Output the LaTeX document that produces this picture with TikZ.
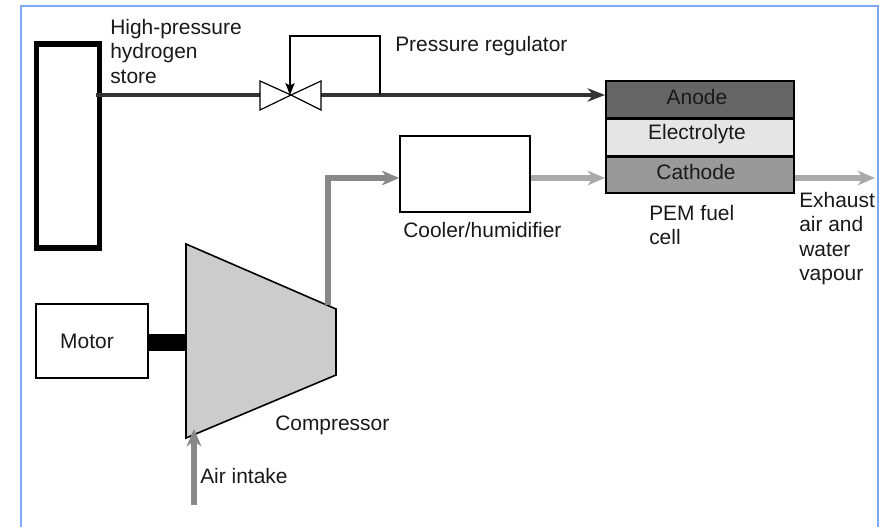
\documentclass[tikz,border=0pt]{standalone}
\usepackage{fontspec}
\setmainfont{Liberation Sans}
\usetikzlibrary{arrows.meta,positioning}
\definecolor{frameblue}{HTML}{7FA8F8}
\definecolor{darkline}{HTML}{333333}
\definecolor{airgray}{HTML}{888888}
\definecolor{coolgray}{HTML}{AAAAAA}
\tikzset{
  x=0.75pt,y=-0.75pt,
  txt/.style={font=\fontsize{15.7}{18.3}\selectfont,inner sep=0pt,text=black!90},
  label text/.style={txt,align=left,anchor=north west},
  blockbox/.style={draw=black,line width=1.2pt,fill=white,inner sep=0pt,minimum width=#1},
  layer/.style={draw=black,line width=1.2pt,inner sep=0pt,minimum width=141pt,minimum height=28pt,anchor=north west},
  h2line/.style={draw=darkline,line width=2.8pt,-{Stealth[length=13pt,width=10pt,inset=4pt]}},
  airline/.style={draw=airgray,line width=4.2pt,-{Stealth[length=13pt,width=11pt,inset=4pt]}},
  coolline/.style={draw=coolgray,line width=4.2pt,-{Stealth[length=13pt,width=11pt,inset=4pt]}},
}
\begin{document}
\begin{tikzpicture}
\useasboundingbox (0,0) rectangle (881,527);
\fill[white] (0,0) rectangle (881,527);
% frame
\draw[frameblue,line width=1.5pt] (20.5,527) -- (20.5,6.5) -- (877.5,6.5) -- (877.5,527);
% store
\node[draw=black,line width=4pt,minimum width=47pt,minimum height=153pt,inner sep=0pt] (store) at (68,146) {};
% valve
\coordinate (vc) at (291,95);
\coordinate (vl) at (260,95);
\coordinate (vr) at (321,95);
\coordinate (tee) at (380,95);
\draw[darkline,line width=2.8pt] (96,95) -- (vl);
\draw[darkline,line width=2.8pt] (vr) -- (tee);
\draw[black,line width=0.9pt,line join=miter] (vc) -- (260,81) -- (260,110) -- cycle;
\draw[black,line width=0.9pt,line join=miter] (vc) -- (321,81) -- (321,110) -- cycle;
% regulator loop
\coordinate (rt) at (380,36);
\coordinate (lt) at (290,36);
\draw[black,line width=0.9pt,-{Stealth[length=9pt,width=7pt,inset=2pt]}] (tee) -- (rt) -- (lt) -- (290,95);
% fuel cell
\node[layer,fill=black!60] (anode) at (605,80) {};
\node[layer,fill=black!10] (elec) at (605,118) {};
\node[layer,fill=black!40,minimum height=27pt] (cath) at (605,156) {};
\node[txt] (tanode) at (697,97) {Anode};
\node[txt] (telec) at (697,134) {Electrolyte};
\node[txt] (tcath) at (696,172) {Cathode};
\draw[h2line] (tee) -- (anode.west |- tee);
% cooler
\node[blockbox=97.5pt,minimum height=57pt] (cooler) at (465,174) {};
\coordinate (cin) at (cooler.west |- 0,178);
\coordinate (cout) at (cooler.east |- 0,178);
\draw[coolline] (cout) -- (cath.west |- cout);
\coordinate (ex0) at (cath.east |- 0,178);
\coordinate (ex1) at (875,178);
\draw[coolline] (ex0) -- (ex1);
% compressor
\draw[black,line width=1.2pt,fill=black!20,line join=miter] (186,244) -- (336,309) -- (336,375) -- (186,438) -- cycle;
\coordinate (cmpo) at (328,305);
\draw[airline,line join=miter] (cmpo) -- (328,178) -- (cin);
% motor
\node[blockbox=84pt,minimum height=55.5pt] (motor) at (92,341) {};
\node[txt] (tmotor) at (87,341) {Motor};
\fill[black] (148,334) rectangle (186,351);
% air
\coordinate (air0) at (194,505);
\coordinate (air1) at (194,429);
\draw[airline] (air0) -- (air1);
% labels
\node[label text] (l1) at (110,19) {High-pressure\\hydrogen\\store};
\node[label text] (l2) at (395,36) {Pressure regulator};
\node[label text] (l3) at (403,222) {Cooler/humidifier};
\node[label text] (l4) at (649,205) {PEM  fuel\\cell};
\node[label text] (l5) at (799,192) {Exhaust\\air and\\water\\vapour};
\node[label text] (l6) at (275,416) {Compressor};
\node[label text] (l7) at (200,468) {Air intake};
\end{tikzpicture}
\end{document}
